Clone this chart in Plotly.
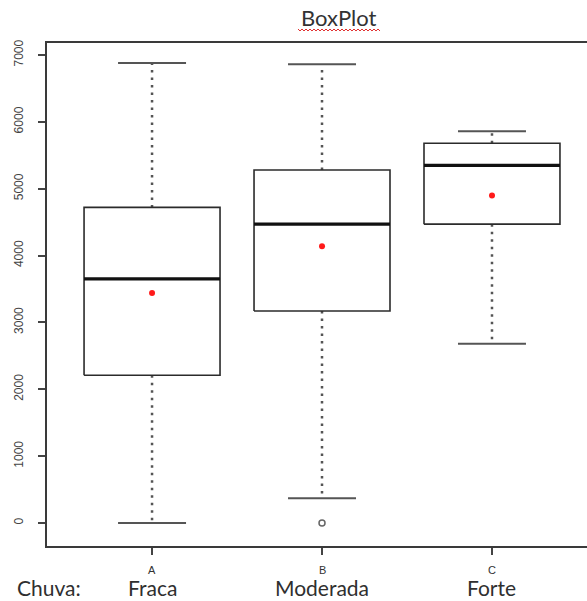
import plotly.graph_objects as go

# ---- data ----
groups = ["A", "B", "C"]
group_names = ["Fraca", "Moderada", "Forte"]
upper_whisker = [6880, 6860, 5860]
q3 = [4720, 5280, 5680]
median = [3650, 4470, 5350]
mean = [3440, 4140, 4900]
q1 = [2210, 3170, 4470]
lower_whisker = [0, 370, 2680]
outlier_groups = ["B"]
outlier_values = [0]
y_ticks = [0, 1000, 2000, 3000, 4000, 5000, 6000, 7000]

# ---- layout geometry ----
W, H = 587, 601
ML, MR, MT, MB = 47, 0, 43, 55
PW, PH = W - ML - MR, H - MT - MB

def px(x):
    return (x - ML) / PW

def py(y):
    return 1 - (y - MT) / PH

box_half = 0.4
staple_half = 0.2
pos = {g: i + 1 for i, g in enumerate(groups)}

fig = go.Figure()
line_col = "#2b2b2b"
wh_col = "#555555"

for i, g in enumerate(groups):
    x0 = pos[g]
    # whiskers (dotted)
    fig.add_trace(go.Scatter(x=[x0, x0, None, x0, x0],
                             y=[q3[i], upper_whisker[i], None, q1[i], lower_whisker[i]],
                             mode="lines", line=dict(color=wh_col, width=2.5, dash="2.5px,5px"),
                             hoverinfo="skip", showlegend=False))
    # staples
    fig.add_trace(go.Scatter(x=[x0 - staple_half, x0 + staple_half, None, x0 - staple_half, x0 + staple_half],
                             y=[upper_whisker[i], upper_whisker[i], None, lower_whisker[i], lower_whisker[i]],
                             mode="lines", line=dict(color=wh_col, width=2),
                             hoverinfo="skip", showlegend=False))
    # box
    fig.add_trace(go.Scatter(x=[x0 - box_half, x0 + box_half, x0 + box_half, x0 - box_half, x0 - box_half],
                             y=[q1[i], q1[i], q3[i], q3[i], q1[i]],
                             mode="lines", line=dict(color=line_col, width=1.6),
                             fill="toself", fillcolor="white",
                             hoverinfo="skip", showlegend=False))
    # median
    fig.add_trace(go.Scatter(x=[x0 - box_half, x0 + box_half], y=[median[i], median[i]],
                             mode="lines", line=dict(color="#111111", width=3.2),
                             hoverinfo="skip", showlegend=False))

# means
fig.add_trace(go.Scatter(x=[pos[g] for g in groups], y=mean, mode="markers",
                         marker=dict(color="#ff1a1a", size=6),
                         hoverinfo="skip", showlegend=False))
# outliers
fig.add_trace(go.Scatter(x=[pos[g] for g in outlier_groups], y=outlier_values, mode="markers",
                         marker=dict(color="white", size=6, line=dict(color="#666666", width=1.5)),
                         hoverinfo="skip", showlegend=False))

annotations = []
# title
annotations.append(dict(text="BoxPlot", x=px(339), y=py(18), xref="paper", yref="paper",
                        showarrow=False, xanchor="center", yanchor="middle",
                        font=dict(family="Lato", size=22, color="#333333")))
# group letters and names
for i, g in enumerate(groups):
    annotations.append(dict(text=g, x=pos[g], y=py(570), xref="x", yref="paper",
                            showarrow=False, xanchor="center", yanchor="middle",
                            font=dict(family="Liberation Sans", size=11, color="#333333")))
    annotations.append(dict(text=group_names[i], x=pos[g], y=py(587), xref="x", yref="paper",
                            showarrow=False, xanchor="center", yanchor="middle",
                            font=dict(family="Lato", size=21, color="#2f2f2f")))
annotations.append(dict(text="Chuva:", x=px(49), y=py(587), xref="paper", yref="paper",
                        showarrow=False, xanchor="center", yanchor="middle",
                        font=dict(family="Lato", size=21, color="#2f2f2f")))

# red wavy spell-check underline under the title (decoration)
pts = []
xs = 298
k = 0
while xs <= 381:
    yy = 29 if k % 2 == 0 else 31
    pts.append(f"{px(xs):.5f},{py(yy):.5f}")
    xs += 2
    k += 1
path = "M " + " L ".join(pts)

fig.update_layout(
    width=W, height=H,
    margin=dict(l=ML, r=MR, t=MT, b=MB, pad=0),
    paper_bgcolor="white", plot_bgcolor="white",
    annotations=annotations,
    shapes=[dict(type="path", path=path, xref="paper", yref="paper",
                 line=dict(color="#e03030", width=1))],
    xaxis=dict(range=[0.382, 3.559], tickvals=[1, 2, 3], ticktext=["", "", ""],
               ticks="outside", ticklen=7, tickwidth=1.5, tickcolor="#444444",
               showline=True, linecolor="#3a3a3a", linewidth=2, mirror=True,
               showgrid=False, zeroline=False, fixedrange=True),
    yaxis=dict(range=[-344, 7179], tickvals=y_ticks, ticktext=[str(v) for v in y_ticks],
               tickangle=-90, ticks="outside", ticklen=7, tickwidth=1.5, tickcolor="#444444",
               ticklabelstandoff=10,
               tickfont=dict(family="Liberation Sans", size=12, color="#444444"),
               showline=True, linecolor="#3a3a3a", linewidth=2, mirror=False,
               showgrid=False, zeroline=False, fixedrange=True),
)

fig.write_html("out.html", config={"displayModeBar": False},
               post_script="document.body.style.margin='0';document.body.style.overflow='hidden';")
